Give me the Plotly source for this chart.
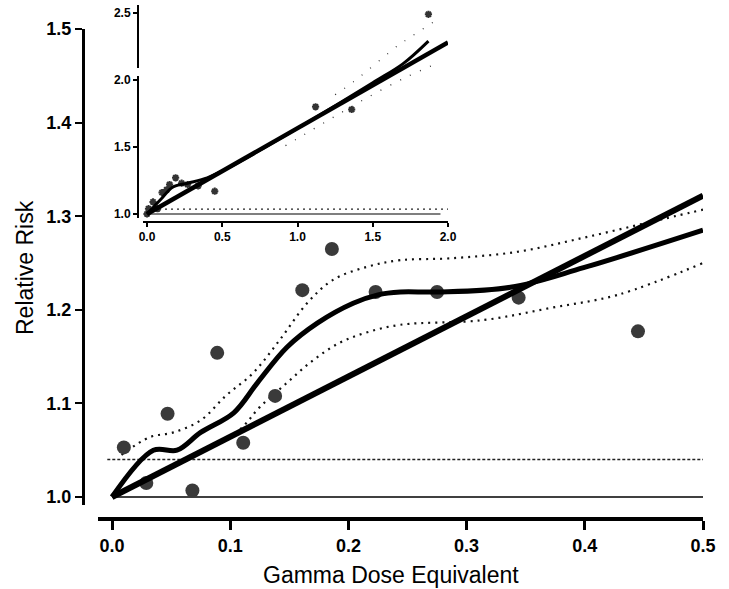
import plotly.graph_objects as go

W, H = 729, 589

# ---------------- main panel data ----------------
dose_pts = [0.010, 0.029, 0.047, 0.068, 0.089, 0.111, 0.138, 0.161, 0.186, 0.223, 0.275, 0.344, 0.445]
rr_pts = [1.053, 1.015, 1.089, 1.007, 1.154, 1.058, 1.108, 1.221, 1.265, 1.219, 1.219, 1.213, 1.177]

linear_x = [0.0, 0.5]
linear_y = [1.0, 1.322]

spline_x = [0.0, 0.035, 0.055, 0.075, 0.103, 0.123, 0.148, 0.174, 0.204, 0.225, 0.244, 0.275, 0.337, 0.399, 0.5]
spline_y = [1.0, 1.050, 1.050, 1.069, 1.090, 1.122, 1.160, 1.186, 1.207, 1.216, 1.219, 1.219, 1.224, 1.245, 1.285]

ci_up_x = [0.008, 0.032, 0.052, 0.075, 0.097, 0.119, 0.142, 0.165, 0.187, 0.216, 0.244, 0.286, 0.343, 0.399, 0.456, 0.5]
ci_up_y = [1.045, 1.064, 1.069, 1.082, 1.109, 1.132, 1.168, 1.207, 1.232, 1.246, 1.253, 1.255, 1.262, 1.277, 1.294, 1.307]

ci_lo_x = [0.015, 0.047, 0.075, 0.108, 0.125, 0.148, 0.170, 0.193, 0.216, 0.244, 0.314, 0.371, 0.428, 0.5]
ci_lo_y = [1.008, 1.029, 1.047, 1.072, 1.096, 1.122, 1.146, 1.165, 1.176, 1.184, 1.189, 1.202, 1.216, 1.250]

ref_x = [0.0, 0.5]
ref_one = [1.0, 1.0]
ref_dot_x = [-0.004, 0.5]
ref_dot = [1.04, 1.04]

x_ticks = [0.0, 0.1, 0.2, 0.3, 0.4, 0.5]
x_ticktext = ["0.0", "0.1", "0.2", "0.3", "0.4", "0.5"]
y_ticks = [1.0, 1.1, 1.2, 1.3, 1.4, 1.5]
y_ticktext = ["1.0", "1.1", "1.2", "1.3", "1.4", "1.5"]

# ---------------- inset data ----------------
in_pts_x = [0.0, 0.01, 0.04, 0.07, 0.10, 0.13, 0.15, 0.19, 0.23, 0.27, 0.34, 0.45, 1.12, 1.36, 1.87]
in_pts_y = [1.0, 1.04, 1.09, 1.04, 1.16, 1.18, 1.22, 1.27, 1.23, 1.22, 1.21, 1.17, 1.80, 1.78, 2.49]

in_lin_x = [0.0, 2.0]
in_lin_y = [1.0, 2.28]

in_spl_x = [0.0, 0.05, 0.10, 0.17, 0.27, 0.40, 0.55, 1.0, 1.5, 1.7, 1.87]
in_spl_y = [1.0, 1.06, 1.12, 1.20, 1.23, 1.27, 1.35, 1.64, 1.98, 2.12, 2.29]

in_up_x = [1.25, 1.37, 1.67, 1.71, 1.94]
in_up_y = [1.89, 1.985, 2.26, 2.29, 2.46]
in_lo_x = [0.92, 1.04, 1.22, 1.45, 1.72, 1.94]
in_lo_y = [1.51, 1.59, 1.71, 1.86, 2.02, 2.13]

in_ref_x = [0.0, 1.95]
in_ref_one = [1.0, 1.0]
in_refd_x = [0.0, 2.0]
in_ref_dot = [1.037, 1.037]

in_x_ticks = [0.0, 0.5, 1.0, 1.5, 2.0]
in_x_text = ["0.0", "0.5", "1.0", "1.5", "2.0"]
in_y_ticks_low = [1.0, 1.5, 2.0]
in_y_text_low = ["1.0", "1.5", "2.0"]
in_y_ticks_high = [2.5]
in_y_text_high = ["2.5"]


def px_x(p):
    return p / W


def px_y(p):
    return 1 - p / H


fig = go.Figure()

# main traces
fig.add_trace(go.Scatter(x=ref_x, y=ref_one, mode="lines",
                         line=dict(color="black", width=1.5), xaxis="x", yaxis="y"))
fig.add_trace(go.Scatter(x=ref_dot_x, y=ref_dot, mode="lines",
                         line=dict(color="#222", width=1.5, dash="3px,2px"), xaxis="x", yaxis="y"))
fig.add_trace(go.Scatter(x=ci_up_x, y=ci_up_y, mode="lines", line_shape="spline",
                         line=dict(color="#111", width=2.2, dash="2px,5px"), xaxis="x", yaxis="y"))
fig.add_trace(go.Scatter(x=ci_lo_x, y=ci_lo_y, mode="lines", line_shape="spline",
                         line=dict(color="#111", width=2.2, dash="2px,5px"), xaxis="x", yaxis="y"))
fig.add_trace(go.Scatter(x=dose_pts, y=rr_pts, mode="markers", cliponaxis=False,
                         marker=dict(color="#3a3a3a", size=14, line=dict(width=0)), xaxis="x", yaxis="y"))
fig.add_trace(go.Scatter(x=spline_x, y=spline_y, mode="lines", line_shape="spline",
                         line=dict(color="black", width=5), xaxis="x", yaxis="y"))
fig.add_trace(go.Scatter(x=linear_x, y=linear_y, mode="lines",
                         line=dict(color="black", width=6), xaxis="x", yaxis="y"))

# inset traces
fig.add_trace(go.Scatter(x=in_ref_x, y=in_ref_one, mode="lines",
                         line=dict(color="black", width=1.2), xaxis="x2", yaxis="y2"))
fig.add_trace(go.Scatter(x=in_refd_x, y=in_ref_dot, mode="lines",
                         line=dict(color="#222", width=1.2, dash="2px,4px"), xaxis="x2", yaxis="y2"))
fig.add_trace(go.Scatter(x=in_up_x, y=in_up_y, mode="lines", line_shape="spline",
                         line=dict(color="#333", width=1.3, dash="1px,10px"), xaxis="x2", yaxis="y2"))
fig.add_trace(go.Scatter(x=in_lo_x, y=in_lo_y, mode="lines", line_shape="spline",
                         line=dict(color="#333", width=1.3, dash="1px,10px"), xaxis="x2", yaxis="y2"))
fig.add_trace(go.Scatter(x=in_pts_x, y=in_pts_y, mode="markers", cliponaxis=False,
                         marker=dict(color="#444", size=6, symbol="asterisk",
                                     line=dict(color="#333", width=2)), xaxis="x2", yaxis="y2"))
fig.add_trace(go.Scatter(x=in_spl_x, y=in_spl_y, mode="lines", line_shape="spline",
                         line=dict(color="black", width=3), xaxis="x2", yaxis="y2"))
fig.add_trace(go.Scatter(x=in_lin_x, y=in_lin_y, mode="lines",
                         line=dict(color="black", width=4.5), xaxis="x2", yaxis="y2"))
# empty traces so the two pieces of the broken inset y axis are drawn
fig.add_trace(go.Scatter(x=[None], y=[None], mode="lines", xaxis="x2", yaxis="y3"))
fig.add_trace(go.Scatter(x=[None], y=[None], mode="lines", xaxis="x2", yaxis="y4"))

tickfont_main = dict(family="Liberation Sans", size=18, color="black", weight="bold")
tickfont_in = dict(family="Liberation Sans", size=12, color="black", weight="bold")

common = dict(showgrid=False, zeroline=False, automargin=False, fixedrange=True,
              ticks="outside", tickcolor="black", showline=True, linecolor="black")

# inset y mapping: 1.0 at 214 px, 134 px per unit
in_y0_px, in_y_scale = 214, 134


def in_val(p):
    return 1 + (in_y0_px - p) / in_y_scale


fig.update_layout(
    template="simple_white",
    width=W, height=H,
    autosize=False,
    margin=dict(l=0, r=0, t=0, b=0, pad=0, autoexpand=False),
    paper_bgcolor="white", plot_bgcolor="rgba(0,0,0,0)",
    showlegend=False,
    xaxis=dict(domain=[px_x(98), px_x(703)], range=[-14 / 1180, 0.5],
               anchor="free", position=px_y(519), linewidth=4,
               ticklen=9, tickwidth=3,
               tickvals=x_ticks, ticktext=x_ticktext, tickfont=tickfont_main, **common),
    yaxis=dict(domain=[px_y(505), px_y(29)], range=[1 - 8 / 936, 1.5],
               anchor="free", position=px_x(83), linewidth=3,
               ticklen=7, tickwidth=2,
               tickvals=y_ticks, ticktext=y_ticktext, tickfont=tickfont_main, **common),
    xaxis2=dict(domain=[px_x(143), px_x(448)], range=[-4 / 150, 2.0],
                anchor="free", position=px_y(222), linewidth=2,
                ticklen=4, tickwidth=2,
                tickvals=in_x_ticks, ticktext=in_x_text, tickfont=tickfont_in, **common),
    yaxis2=dict(domain=[px_y(218), px_y(5)], range=[in_val(218), in_val(5)],
                anchor="free", position=px_x(138), visible=False,
                showgrid=False, zeroline=False, automargin=False, fixedrange=True),
    yaxis3=dict(domain=[px_y(218), px_y(76)], range=[in_val(218), in_val(76)],
                anchor="free", position=px_x(138), linewidth=2,
                ticklen=4, tickwidth=2,
                tickvals=in_y_ticks_low, ticktext=in_y_text_low, tickfont=tickfont_in, **common),
    yaxis4=dict(domain=[px_y(68), px_y(5)], range=[in_val(68), in_val(5)],
                anchor="free", position=px_x(138), linewidth=2,
                ticklen=4, tickwidth=2,
                tickvals=in_y_ticks_high, ticktext=in_y_text_high, tickfont=tickfont_in, **common),
    annotations=[
        dict(text="Gamma Dose Equivalent", xref="paper", yref="paper",
             x=px_x(391), y=px_y(575), xanchor="center", yanchor="middle",
             showarrow=False, font=dict(family="Liberation Sans", size=23, color="black")),
        dict(text="Relative Risk", xref="paper", yref="paper",
             x=px_x(25), y=px_y(268), xanchor="center", yanchor="middle", textangle=-90,
             showarrow=False, font=dict(family="Liberation Sans", size=23, color="black")),
    ],
)

fig.write_html("out.html",
               config={"displayModeBar": False, "responsive": False},
               post_script="document.body.style.margin='0px';document.body.style.overflow='hidden';")
